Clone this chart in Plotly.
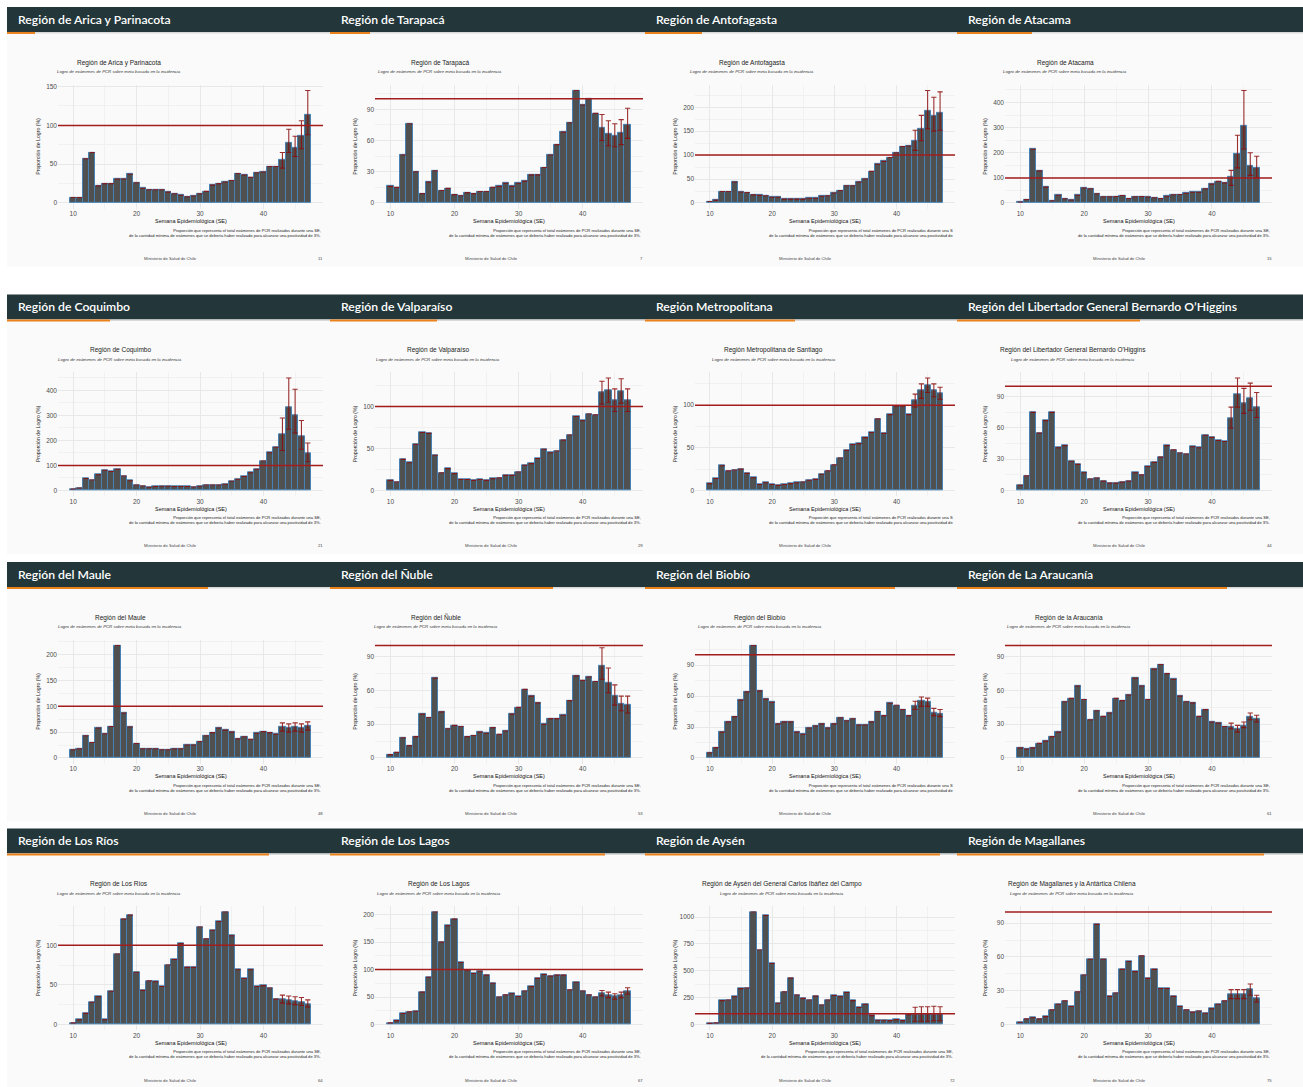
import plotly.graph_objects as go

W, H = 1303, 1087
weeks = list(range(10, 48))

# ---- data: proporción de logro (%) by epidemiological week 10..47 ----
arica = [7, 7, 57, 65, 22, 25, 25, 31, 31, 37, 26, 19, 17, 17, 17, 14, 12, 10, 8, 9,
         12, 15, 23, 25, 27, 29, 38, 36, 33, 39, 40, 47, 47, 55, 78, 71, 86, 113]
arica_lo = [45, 65, 60, 70, 88]
arica_hi = [65, 95, 86, 106, 145]

tarapaca = [16, 15, 46, 76, 30, 9, 20, 31, 12, 14, 8, 7, 10, 9, 11, 11, 15, 16, 19, 16,
            19, 21, 27, 27, 34, 46, 56, 68, 77, 108, 94, 100, 86, 72, 66, 64, 67, 75]
tarapaca_lo = [60, 55, 54, 56, 62]
tarapaca_hi = [85, 79, 76, 80, 91]

antofagasta = [3, 6, 24, 24, 44, 23, 22, 17, 16, 15, 12, 12, 8, 8, 8, 8, 10, 10, 14, 15,
               21, 26, 36, 36, 44, 50, 66, 81, 87, 95, 105, 118, 119, 129, 155, 192, 181, 188]
antofagasta_lo = [110, 130, 155, 150, 152]
antofagasta_hi = [152, 183, 235, 221, 232]

atacama = [4, 14, 214, 128, 63, 9, 31, 17, 12, 31, 60, 57, 37, 25, 25, 26, 30, 18, 25, 26,
           24, 21, 18, 27, 33, 34, 39, 43, 43, 57, 75, 86, 80, 106, 196, 308, 147, 139]
atacama_lo = [70, 140, 215, 110, 100]
atacama_hi = [130, 270, 448, 200, 186]

coquimbo = [6, 10, 48, 42, 63, 81, 76, 85, 58, 39, 22, 18, 13, 16, 17, 17, 16, 16, 16, 14,
            17, 22, 22, 22, 25, 37, 45, 56, 71, 85, 118, 151, 173, 223, 332, 301, 218, 150]
coquimbo_lo = [160, 245, 230, 165, 115]
coquimbo_hi = [290, 450, 405, 280, 190]

valparaiso = [12, 10, 37, 33, 55, 69, 68, 42, 21, 26, 20, 13, 13, 12, 13, 12, 14, 15, 18, 18,
              22, 30, 32, 38, 49, 45, 47, 60, 66, 88, 83, 91, 90, 117, 119, 107, 118, 107]
valparaiso_lo = [103, 105, 94, 104, 94]
valparaiso_hi = [130, 134, 121, 133, 121]

metropolitana = [8, 14, 29, 23, 24, 25, 20, 15, 7, 9, 7, 6, 7, 8, 9, 10, 12, 13, 19, 23,
                 30, 38, 47, 54, 55, 62, 68, 84, 67, 89, 99, 99, 89, 106, 117, 123, 117, 114]
metropolitana_lo = [98, 108, 115, 110, 107]
metropolitana_hi = [113, 125, 132, 125, 121]

ohiggins = [5, 14, 75, 55, 67, 75, 41, 43, 28, 25, 17, 11, 12, 9, 7, 7, 8, 9, 17, 15,
            23, 27, 32, 43, 39, 36, 35, 42, 41, 53, 51, 48, 47, 69, 92, 84, 88, 80]
ohiggins_lo = [60, 80, 74, 77, 70]
ohiggins_hi = [80, 108, 98, 103, 94]

maule = [16, 18, 43, 30, 58, 47, 61, 218, 87, 60, 28, 18, 18, 18, 16, 16, 18, 18, 25, 25,
         32, 43, 49, 58, 54, 50, 37, 41, 36, 48, 51, 49, 46, 60, 58, 60, 58, 62]
maule_lo = [52, 50, 52, 50, 54]
maule_hi = [68, 66, 68, 66, 70]

nuble = [3, 5, 18, 11, 19, 39, 36, 71, 41, 26, 29, 28, 19, 20, 23, 22, 27, 21, 24, 39,
         45, 61, 55, 49, 30, 35, 35, 38, 51, 73, 69, 72, 68, 82, 67, 55, 48, 47]
nuble_lo = [70, 58, 47, 42, 40]
nuble_hi = [98, 80, 65, 55, 55]

biobio = [5, 10, 25, 35, 40, 56, 64, 109, 65, 57, 54, 33, 35, 35, 25, 23, 29, 31, 33, 29,
          33, 39, 36, 38, 32, 32, 35, 45, 41, 53, 51, 47, 41, 51, 55, 54, 44, 43]
biobio_lo = [47, 50, 50, 41, 40]
biobio_hi = [55, 59, 58, 48, 47]

araucania = [9, 8, 9, 13, 15, 19, 23, 50, 53, 64, 52, 34, 42, 37, 40, 53, 51, 56, 71, 64,
             52, 79, 83, 75, 70, 55, 50, 49, 37, 43, 32, 31, 28, 28, 26, 29, 37, 35]
araucania_lo = [26, 23, 27, 34, 32]
araucania_hi = [31, 29, 32, 40, 38]

los_rios = [2, 6, 14, 28, 35, 6, 42, 89, 133, 138, 66, 43, 55, 54, 48, 75, 82, 102, 72, 72,
            123, 108, 119, 130, 142, 112, 69, 58, 69, 48, 49, 46, 32, 32, 30, 29, 28, 26]
los_rios_lo = [27, 26, 25, 24, 22]
los_rios_hi = [37, 36, 35, 34, 31]

los_lagos = [3, 7, 20, 23, 24, 59, 86, 205, 150, 180, 192, 113, 99, 93, 97, 90, 75, 50, 54, 56,
             51, 61, 69, 84, 91, 88, 90, 90, 63, 77, 61, 54, 50, 57, 54, 51, 54, 61]
los_lagos_lo = [52, 49, 46, 49, 55]
los_lagos_hi = [62, 59, 56, 59, 67]

aysen = [10, 15, 222, 228, 258, 334, 340, 1048, 693, 1015, 568, 198, 304, 432, 274, 243, 228, 264, 182, 228,
         270, 258, 298, 222, 158, 188, 82, 40, 40, 36, 45, 36, 91, 91, 91, 97, 91, 95]
aysen_lo = [30, 30, 30, 35, 35]
aysen_hi = [160, 165, 165, 170, 165]

magallanes = [2, 5, 6, 5, 7, 13, 18, 21, 16, 29, 44, 58, 89, 58, 25, 28, 49, 56, 47, 61,
              41, 49, 32, 32, 25, 16, 13, 11, 12, 10, 14, 18, 21, 27, 27, 27, 31, 23]
magallanes_lo = [23, 23, 23, 26, 20]
magallanes_hi = [31, 31, 31, 36, 26]

header_titles = ["Región de Arica y Parinacota", "Región de Tarapacá", "Región de Antofagasta",
                 "Región de Atacama", "Región de Coquimbo", "Región de Valparaíso",
                 "Región Metropolitana", "Región del Libertador General Bernardo O’Higgins",
                 "Región del Maule", "Región del Ñuble", "Región del Biobío", "Región de La Araucanía",
                 "Región de Los Ríos", "Región de Los Lagos", "Región de Aysén", "Región de Magallanes"]
chart_titles = ["Región de Arica y Parinacota", "Región de Tarapacá", "Región de Antofagasta",
                "Región de Atacama", "Región de Coquimbo", "Región de Valparaíso",
                "Región Metropolitana de Santiago", "Región del Libertador General Bernardo O'Higgins",
                "Región del Maule", "Región del Ñuble", "Región del Biobío", "Región de la Araucanía",
                "Región de Los Ríos", "Región de Los Lagos",
                "Región de Aysén del General Carlos Ibáñez del Campo",
                "Región de Magallanes y la Antártica Chilena"]
page_numbers = ["11", "7", "", "15", "21", "29", "", "44", "48", "53", "", "61", "64", "67", "72", "75"]
tick_steps = [50, 30, 50, 100, 100, 50, 50, 30, 50, 30, 30, 30, 50, 50, 250, 30]
title_centers = [112, 110, 107, 108, 113, 108, 129, 116, 113, 106, 115, 112, 112, 109, 137, 115]
progress = [28, 40, 57, 75, 103, 107, 150, 183, 201, 223, 250, 270, 262, 275, 295, 307]
truncated = [False, False, True, False, False, False, True, False,
             False, False, True, False, False, False, False, False]

subtitle = "Logro de exámenes de PCR sobre meta basada en la incidencia"
x_title = "Semana Epidemiológica (SE)"
y_title = "Proporción de Logro (%)"
caption1 = "Proporción que representa el total exámenes de PCR realizados durante una SE,"
caption2 = "de la cantidad mínima de exámenes que se debería haber realizado para alcanzar una positividad de 3%."
footer = "Ministerio de Salud de Chile"
goal = 100

series = [arica, tarapaca, antofagasta, atacama, coquimbo, valparaiso, metropolitana, ohiggins,
          maule, nuble, biobio, araucania, los_rios, los_lagos, aysen, magallanes]
lows = [arica_lo, tarapaca_lo, antofagasta_lo, atacama_lo, coquimbo_lo, valparaiso_lo, metropolitana_lo,
        ohiggins_lo, maule_lo, nuble_lo, biobio_lo, araucania_lo, los_rios_lo, los_lagos_lo, aysen_lo,
        magallanes_lo]
highs = [arica_hi, tarapaca_hi, antofagasta_hi, atacama_hi, coquimbo_hi, valparaiso_hi, metropolitana_hi,
         ohiggins_hi, maule_hi, nuble_hi, biobio_hi, araucania_hi, los_rios_hi, los_lagos_hi, aysen_hi,
         magallanes_hi]

# ---- layout geometry (pixels) ----
col_x0 = [7, 330, 645, 957]
col_x1 = [330, 645, 957, 1303]
panel_l = [58, 375, 695, 1005]
panel_r = [323, 643, 955, 1272]
row_y0 = [5, 293, 561, 828]
row_y1 = [265, 553, 821, 1087]

DARK = "#23373B"
ORANGE = "#EB811B"
SLIDE_BG = "#FAFAFA"
TXT = "Liberation Sans"


def px(x):
    return x / W


def py(y):
    return 1 - y / H


fig = go.Figure()
shapes = []
annotations = []
layout_axes = {}

for i in range(16):
    r, c = divmod(i, 4)
    sfx = "" if i == 0 else str(i + 1)
    sx0, sx1 = col_x0[c], col_x1[c]
    sy0, sy1 = row_y0[r], row_y1[r]
    pl, pr = panel_l[c], panel_r[c]
    pt, pb = sy0 + 78, sy0 + 202

    # slide background, header, progress bar
    shapes.append(dict(type="rect", xref="paper", yref="paper", x0=px(sx0), x1=px(sx1),
                       y0=py(sy1), y1=py(sy0), fillcolor=SLIDE_BG, line=dict(width=0), layer="below"))
    shapes.append(dict(type="rect", xref="paper", yref="paper", x0=px(sx0), x1=px(sx1),
                       y0=py(sy0 + 25), y1=py(sy0), fillcolor=DARK, line=dict(width=0), layer="below"))
    shapes.append(dict(type="rect", xref="paper", yref="paper", x0=px(sx0), x1=px(sx1),
                       y0=py(sy0 + 26.5), y1=py(sy0 + 25), fillcolor="#D9D9D9", line=dict(width=0),
                       layer="below"))
    shapes.append(dict(type="rect", xref="paper", yref="paper", x0=px(sx0), x1=px(sx0 + progress[i]),
                       y0=py(sy0 + 27), y1=py(sy0 + 25), fillcolor=ORANGE, line=dict(width=0),
                       layer="below"))
    annotations.append(dict(text=header_titles[i], xref="paper", yref="paper", x=px(sx0 + 9),
                            y=py(sy0 + 12.5), xanchor="left", yanchor="middle", showarrow=False,
                            font=dict(family="Lato", size=12.2, color="white", weight=600)))

    # data
    vals = series[i]
    lo = vals[:-5] + lows[i]
    hi = vals[:-5] + highs[i]
    plus = [h - v for h, v in zip(hi, vals)]
    minus = [v - l for v, l in zip(vals, lo)]
    ymax = max(max(hi), max(vals), goal)
    yr = [-0.05 * ymax, 1.05 * ymax]

    fig.add_trace(go.Bar(x=weeks, y=vals, width=1, xaxis=f"x{sfx}", yaxis=f"y{sfx}", showlegend=False,
                         marker=dict(color="#505050", line=dict(color="#4682B4", width=1)),
                         error_y=dict(type="data", symmetric=False, array=plus, arrayminus=minus,
                                      color="rgba(139,10,10,0.85)", thickness=1.1, width=2.6)))

    step = tick_steps[i]
    layout_axes[f"xaxis{sfx}"] = dict(
        domain=[px(pl), px(pr)], anchor=f"y{sfx}", range=[7.6, 49.4],
        tickvals=[10, 20, 30, 40], ticks="", showline=False, zeroline=False,
        showgrid=True, gridcolor="#E8E8E8", gridwidth=0.6,
        minor=dict(tickvals=[15, 25, 35, 45], showgrid=True, gridcolor="#F1F1F1", gridwidth=0.4),
        tickfont=dict(family=TXT, size=6.5, color="#4D4D4D"), fixedrange=True)
    layout_axes[f"yaxis{sfx}"] = dict(
        domain=[py(pb), py(pt)], anchor=f"x{sfx}", range=yr, tick0=0, dtick=step, ticks="",
        showline=False, zeroline=False, showgrid=True, gridcolor="#E8E8E8", gridwidth=0.6,
        minor=dict(dtick=step / 2, tick0=0, showgrid=True, gridcolor="#F1F1F1", gridwidth=0.4),
        tickfont=dict(family=TXT, size=6.5, color="#4D4D4D"), fixedrange=True)

    # goal line
    shapes.append(dict(type="line", xref=f"x{sfx} domain", yref=f"y{sfx}", x0=0, x1=1, y0=goal, y1=goal,
                       line=dict(color="#A31C1C", width=1.5)))

    # titles and texts
    tc = sx0 + title_centers[i]
    annotations.append(dict(text=chart_titles[i], xref="paper", yref="paper", x=px(tc), y=py(sy0 + 56),
                            xanchor="center", yanchor="middle", showarrow=False,
                            font=dict(family=TXT, size=6.5, color="#222222")))
    annotations.append(dict(text=f"<i>{subtitle}</i>", xref="paper", yref="paper", x=px(tc),
                            y=py(sy0 + 65), xanchor="center", yanchor="middle", showarrow=False,
                            font=dict(family=TXT, size=4.3, color="#333333")))
    annotations.append(dict(text=y_title, xref="paper", yref="paper", x=px(pl - 20),
                            y=py((pt + pb) / 2), xanchor="center", yanchor="middle", textangle=-90,
                            showarrow=False, font=dict(family=TXT, size=5.2, color="#222222")))
    annotations.append(dict(text=x_title, xref="paper", yref="paper", x=px((pl + pr) / 2),
                            y=py(sy0 + 214.5), xanchor="center", yanchor="middle", showarrow=False,
                            font=dict(family=TXT, size=5.5, color="#111111")))
    c1, c2 = caption1, caption2
    if truncated[i]:
        c1 = caption1[:-3] + "S"
        c2 = caption2[:-4]
    annotations.append(dict(text=c1 + "<br>" + c2, xref="paper", yref="paper", x=px(pr),
                            y=py(sy0 + 219), xanchor="right", yanchor="top", align="right",
                            showarrow=False, font=dict(family=TXT, size=4.1, color="#222222")))
    annotations.append(dict(text=footer, xref="paper", yref="paper", x=px((sx0 + pr) / 2 + 5),
                            y=py(sy0 + 252), xanchor="center", yanchor="middle", showarrow=False,
                            font=dict(family=TXT, size=4.2, color="#444444")))
    if page_numbers[i]:
        annotations.append(dict(text=page_numbers[i], xref="paper", yref="paper", x=px(pr + 2),
                                y=py(sy0 + 252), xanchor="right", yanchor="middle", showarrow=False,
                                font=dict(family=TXT, size=4.2, color="#444444")))

fig.update_layout(
    width=W, height=H, autosize=False, margin=dict(l=0, r=0, t=0, b=0),
    paper_bgcolor="white", plot_bgcolor=SLIDE_BG, bargap=0, showlegend=False,
    shapes=shapes, annotations=annotations, **layout_axes)

fig.write_html("out.html", config={"displayModeBar": False},
               post_script="document.body.style.margin='0';document.body.style.overflow='hidden';")
